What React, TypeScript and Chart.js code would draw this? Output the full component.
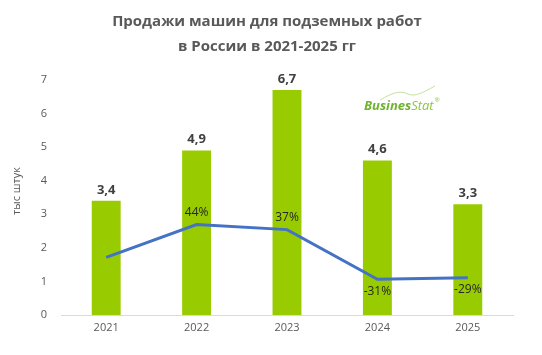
import React, { useEffect, useRef } from "react";
import { Chart, registerables } from "chart.js";

Chart.register(...registerables);

const categories = ["2021", "2022", "2023", "2024", "2025"];
const salesValues = [3.4, 4.9, 6.7, 4.6, 3.3];
const growthValues = [-1, 44, 37, -31, -29];
const growthLabels = ["", "44%", "37%", "-31%", "-29%"];
const yTicks = [0, 1, 2, 3, 4, 5, 6, 7];

const FONT = "'Open Sans', 'Noto Sans', sans-serif";

const customDraw = {
  id: "customDraw",
  afterDatasetsDraw(chart: any) {
    const ctx = chart.ctx as CanvasRenderingContext2D;
    ctx.save();
    // title
    ctx.fillStyle = "#595959";
    ctx.textAlign = "center";
    ctx.textBaseline = "middle";
    ctx.font = `bold 15px ${FONT}`;
    ctx.fillText("Продажи машин для подземных работ", 267, 22);
    ctx.fillText("в России в 2021-2025 гг", 267, 47);

    // axis title
    ctx.save();
    ctx.translate(17, 191);
    ctx.rotate(-Math.PI / 2);
    ctx.font = `11px ${FONT}`;
    ctx.fillStyle = "#595959";
    ctx.fillText("тыс штук", 0, 0);
    ctx.restore();

    // bar labels
    const barMeta = chart.getDatasetMeta(0);
    ctx.font = `bold 13px ${FONT}`;
    ctx.fillStyle = "#404040";
    barMeta.data.forEach((el: any, i: number) => {
      ctx.fillText(String(salesValues[i]).replace(".", ","), el.x, el.y - 11);
    });

    // line labels
    const lineMeta = chart.getDatasetMeta(1);
    ctx.font = `12px ${FONT}`;
    ctx.fillStyle = "#262626";
    lineMeta.data.forEach((el: any, i: number) => {
      const t = growthLabels[i];
      if (!t) return;
      const dy = growthValues[i] >= 0 ? -12 : 12;
      ctx.fillText(t, el.x, el.y + dy);
    });

    // logo
    ctx.textAlign = "left";
    ctx.font = `italic bold 13px ${FONT}`;
    ctx.fillStyle = "#6fb32e";
    const x0 = 364;
    const yL = 106;
    ctx.fillText("Busines", x0, yL);
    const w1 = ctx.measureText("Busines").width;
    ctx.font = `italic 13px ${FONT}`;
    ctx.fillStyle = "#8cc63f";
    ctx.fillText("Stat", x0 + w1, yL);
    const w2 = ctx.measureText("Stat").width;
    ctx.font = `6px ${FONT}`;
    ctx.fillText("®", x0 + w1 + w2 + 1, yL - 6);
    ctx.strokeStyle = "#b5d98a";
    ctx.lineWidth = 0.8;
    ctx.beginPath();
    ctx.moveTo(380, 100);
    ctx.bezierCurveTo(392, 93, 400, 90, 408, 94);
    ctx.bezierCurveTo(415, 97, 422, 93, 435, 86);
    ctx.stroke();
    ctx.restore();
  },
};

export default function App() {
  const ref = useRef<HTMLCanvasElement | null>(null);
  useEffect(() => {
    document.body.style.margin = "0";
    const chart = new Chart(ref.current as HTMLCanvasElement, {
      type: "bar",
      data: {
        labels: categories,
        datasets: [
          {
            type: "bar",
            data: salesValues,
            backgroundColor: "#99cc00",
            barPercentage: 0.32,
            categoryPercentage: 1,
            yAxisID: "y",
            order: 2,
          },
          {
            type: "line",
            data: growthValues,
            borderColor: "#4472c4",
            borderWidth: 3,
            pointRadius: 0,
            tension: 0,
            yAxisID: "y2",
            order: 1,
          } as any,
        ],
      },
      options: {
        animation: false,
        responsive: false,
        layout: { padding: { top: 80, right: 29, left: 0, bottom: 0 } },
        plugins: {
          legend: { display: false },
          title: { display: false },
          tooltip: { enabled: false },
        },
        scales: {
          x: {
            grid: { display: false, drawTicks: false },
            border: { color: "#d9d9d9", width: 1 },
            ticks: { color: "#595959", font: { family: FONT, size: 11 }, padding: 6 },
            afterFit: (s: any) => {
              s.height = 40;
            },
          },
          y: {
            min: 0,
            max: 7,
            afterBuildTicks: (s: any) => {
              s.ticks = yTicks.map((v) => ({ value: v }));
            },
            grid: { display: false, drawTicks: false },
            border: { display: false },
            ticks: { color: "#595959", font: { family: FONT, size: 11 }, padding: 14 },
            afterFit: (s: any) => {
              s.width = 61;
            },
          },
          y2: {
            display: false,
            min: -80,
            max: 242,
          },
        },
      },
      plugins: [customDraw],
    });
    return () => chart.destroy();
  }, []);
  return (
    <div style={{ width: 542, height: 355 }}>
      <canvas ref={ref} width={542} height={355} style={{ display: "block" }} />
    </div>
  );
}
